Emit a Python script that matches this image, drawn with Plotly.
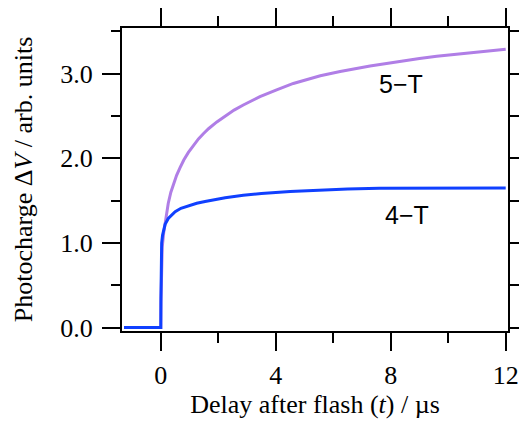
import plotly.graph_objects as go

# 5-T trace (purple)
t5 = [-1.28, 0.0, 0.005, 0.02, 0.05, 0.10, 0.15, 0.20, 0.26, 0.35, 0.44, 0.55, 0.67, 0.80,
      0.96, 1.13, 1.31, 1.48, 1.66, 1.95, 2.24, 2.55, 2.87, 3.45, 4.03, 4.61, 5.55, 6.24,
      7.28, 8.00, 9.00, 9.60, 10.5, 11.2, 12.0]
y5 = [0.0, 0.0, 0.30, 0.70, 0.95, 1.12, 1.25, 1.36, 1.47, 1.60, 1.70, 1.80, 1.89, 1.98,
      2.07, 2.15, 2.23, 2.29, 2.35, 2.43, 2.50, 2.57, 2.63, 2.73, 2.81, 2.885, 2.975, 3.025,
      3.09, 3.13, 3.18, 3.205, 3.24, 3.265, 3.29]

# 4-T trace (blue)
t4 = [-1.28, 0.0, 0.005, 0.015, 0.03, 0.06, 0.09, 0.15, 0.26, 0.37, 0.50, 0.70, 0.96,
      1.25, 1.54, 1.90, 2.24, 2.87, 3.50, 4.50, 5.55, 6.50, 7.60, 9.00, 10.5, 12.0]
y4 = [0.0, 0.0, 0.35, 0.75, 1.00, 1.09, 1.15, 1.22, 1.29, 1.33, 1.37, 1.41, 1.44,
      1.47, 1.49, 1.515, 1.535, 1.563, 1.585, 1.608, 1.625, 1.638, 1.647, 1.65, 1.65, 1.65]

x_ticks = [0, 4, 8, 12]
y_ticks = [0.0, 1.0, 2.0, 3.0]
y_ticklabels = ["0.0", "1.0", "2.0", "3.0"]

labels = [("5\u2212T", 8.36, 2.88), ("4\u2212T", 8.56, 1.33)]

fig = go.Figure()
fig.add_trace(go.Scatter(x=t5, y=y5, mode="lines",
                         line=dict(color="#b07ee6", width=3),
                         showlegend=False))
fig.add_trace(go.Scatter(x=t4, y=y4, mode="lines",
                         line=dict(color="#1040ff", width=3),
                         showlegend=False))

for txt, x, y in labels:
    fig.add_annotation(x=x, y=y, text=txt, showarrow=False,
                       font=dict(family="Liberation Sans", size=25, color="black"))

serif = "Liberation Serif"
fig.update_layout(
    width=519, height=424,
    margin=dict(l=122, r=11, t=28, b=93),
    plot_bgcolor="white", paper_bgcolor="white",
    font=dict(family=serif, size=26, color="black"),
    xaxis=dict(range=[-1.35, 12.08], tickvals=x_ticks, ticktext=[str(v) for v in x_ticks],
               ticks="outside", ticklen=18, tickwidth=2, tickcolor="black",
               showline=True, linewidth=2, linecolor="black", mirror="ticks",
               showgrid=False, zeroline=False, ticklabelstandoff=2, automargin=False,
               minor=dict(dtick=2, tick0=0, ticks="outside", ticklen=10, tickwidth=2,
                          tickcolor="black", showgrid=False),
               title=dict(text="Delay after flash (<i>t</i>) / \u00b5s", standoff=4,
                          font=dict(family=serif, size=26))),
    yaxis=dict(range=[-0.04, 3.54], tickvals=y_ticks, ticktext=y_ticklabels,
               ticks="outside", ticklen=18, tickwidth=2, tickcolor="black",
               showline=True, linewidth=2, linecolor="black", mirror="ticks",
               showgrid=False, zeroline=False, automargin=False, ticklabelstandoff=4,
               minor=dict(dtick=0.5, tick0=0, ticks="outside", ticklen=9, tickwidth=2,
                          tickcolor="black", showgrid=False),
               title=dict(text="Photocharge \u0394<i>V</i> / arb. units", standoff=20,
                          font=dict(family=serif, size=26))),
)

fig.write_html("out.html")
